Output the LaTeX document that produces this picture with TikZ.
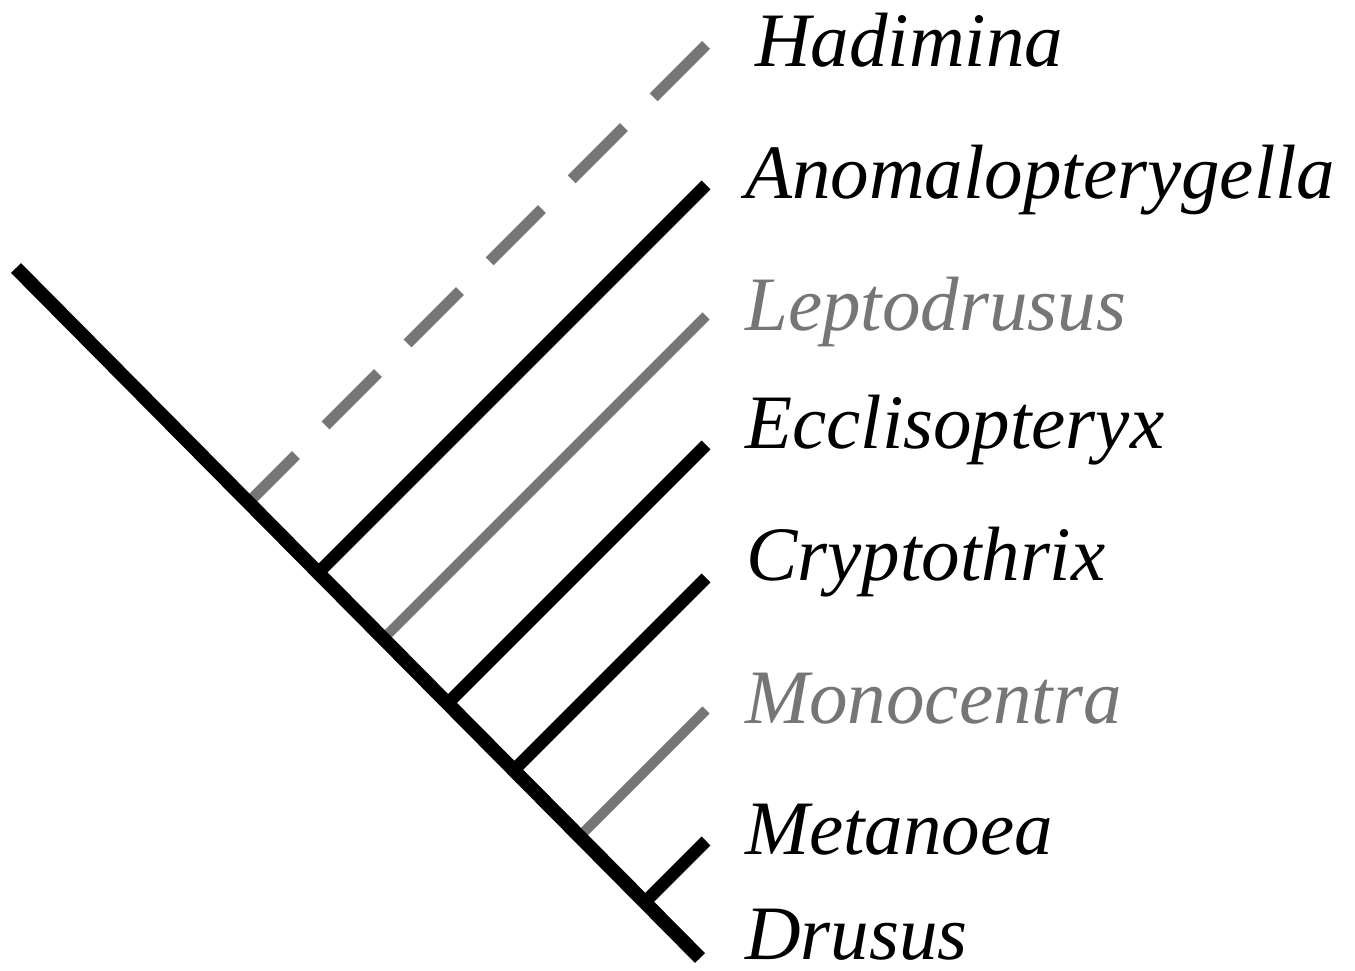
\documentclass[tikz,border=0pt]{standalone}
\usepackage{fontspec}
\setmainfont{Liberation Serif}
\usetikzlibrary{calc}
\definecolor{brgray}{RGB}{118,118,118}
\begin{document}
\begin{tikzpicture}[x=1pt,y=-1pt,line cap=butt,
  trunkline/.style={line width=14pt, black},
  blk/.style={line width=12.5pt, black},
  gry/.style={line width=10pt, brgray},
  gdash/.style={gry, line width=11pt, dash pattern=on 74pt off 42pt},
  taxon/.style={anchor=base west, inner sep=0pt, font=\fontsize{77}{80}\selectfont\itshape},
  graytaxon/.style={taxon, text=brgray}]
\useasboundingbox (0,0) rectangle (1355,971);
% trunk
\coordinate (root) at (16,268);
\coordinate (end) at (700,958);
% tips
\coordinate (tH) at (706,45);
\coordinate (tA) at (706,185);
\coordinate (tL) at (706,316);
\coordinate (tE) at (706,445);
\coordinate (tC) at (706,578);
\coordinate (tMo) at (706,710);
\coordinate (tMe) at (706,841);
% helper points along 45 degree direction
\foreach \t in {H,A,L,E,C,Mo,Me}{
  \coordinate (h\t) at ($(t\t)+(-600,600)$);
  \coordinate (b\t) at (intersection of root--end and t\t--h\t);
}
% branches
\draw[gdash] (tH) -- (bH);
\draw[blk] (tA) -- (bA);
\draw[gry] (tL) -- (bL);
\draw[blk] (tE) -- (bE);
\draw[blk] (tC) -- (bC);
\draw[gry] (tMo) -- (bMo);
\draw[blk] (tMe) -- (bMe);
\draw[trunkline] (root) -- (end);
% labels
\node[taxon] (nH) at (755,67) {Hadimina};
\node[taxon] (nA) at (745,198) {Anomalopterygella};
\node[graytaxon] (nL) at (745,330) {Leptodrusus};
\node[taxon] (nE) at (745,448) {Ecclisopteryx};
\node[taxon] (nC) at (746,580) {Cryptothrix};
\node[graytaxon] (nMo) at (745,723) {Monocentra};
\node[taxon] (nMe) at (745,854) {Metanoea};
\node[taxon] (nD) at (745,959) {Drusus};
\end{tikzpicture}
\end{document}
